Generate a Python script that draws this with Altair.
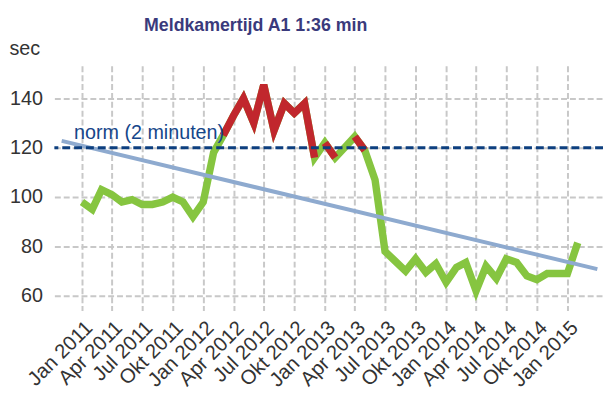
import json
import altair as alt
import pandas as pd

# ---------------- data ----------------
title_text = "Meldkamertijd A1 1:36 min"
y_title = "sec"
norm_value = 120
norm_label = "norm (2 minuten)"
norm_label_date = "2010-12-08"
norm_label_value = 123.6

months = [d.strftime("%Y-%m-%d") for d in pd.date_range("2011-01-01", periods=50, freq="MS")]
values = [
    98, 95, 103, 101, 98, 99, 97, 97, 98, 100, 98, 92,          # 2011
    98, 118, 125, 133, 140, 130, 145.5, 127, 138, 134, 138, 116,  # 2012
    122, 116, 120, 124.5, 119, 107, 78, 74, 70, 75, 69.5, 73,   # 2013
    65.5, 71.5, 73.5, 62, 72, 67, 75, 73.5, 68, 66.5, 69, 69,   # 2014
    69, 81.5,                                                   # 2015
]
trend_dates = ["2010-11-01", "2015-04-01"]
trend_values = [122.8, 70.8]
tick_labels = [
    "Jan 2011", "Apr 2011", "Jul 2011", "Okt 2011",
    "Jan 2012", "Apr 2012", "Jul 2012", "Okt 2012",
    "Jan 2013", "Apr 2013", "Jul 2013", "Okt 2013",
    "Jan 2014", "Apr 2014", "Jul 2014", "Okt 2014",
    "Jan 2015",
]
y_ticks = [60, 80, 100, 120, 140]

# ---------------- tables ----------------
df = pd.DataFrame({"date": months, "sec": values})

red_rows = []
run = 0
prev = False
for i in range(len(values) - 1):
    is_red = values[i] > norm_value
    if is_red:
        if not prev:
            run += 1
            red_rows.append({"date": months[i], "sec": values[i], "run": run})
        red_rows.append({"date": months[i + 1], "sec": values[i + 1], "run": run})
    prev = is_red
red_df = pd.DataFrame(red_rows)

trend_df = pd.DataFrame({"date": trend_dates, "sec": trend_values})
norm_df = pd.DataFrame({"sec": [norm_value]})
label_df = pd.DataFrame({"date": [norm_label_date], "sec": [norm_label_value], "t": [norm_label]})

tick_values = []
for lab in tick_labels:
    mon, yr = lab.split()
    m = {"Jan": 1, "Apr": 4, "Jul": 7, "Okt": 10}[mon]
    tick_values.append(alt.DateTime(year=int(yr), month=m, date=1, utc=True))

label_expr = (
    json.dumps(tick_labels)
    + "[(utcyear(datum.value)-2011)*4 + floor(utcmonth(datum.value)/3)]"
)

FONT = "Liberation Sans"

x_scale = alt.Scale(
    type="utc",
    domain=[
        alt.DateTime(year=2010, month=10, date=10, utc=True),
        alt.DateTime(year=2015, month=4, date=18, utc=True),
    ],
)
y_scale = alt.Scale(domain=[54, 153.2], nice=False, zero=False)

x_axis = alt.Axis(
    values=tick_values,
    labelExpr=label_expr,
    labelAngle=-45,
    labelFontSize=20.5,
    labelColor="#333333",
    labelFont=FONT,
    labelPadding=7,
    labelOverlap=False,
    labelSeparation=-100,
    labelFlush=False,
    labelBound=False,
    ticks=False,
    domain=False,
    grid=True,
    gridColor="#c8c8c8",
    gridDash=[6, 3],
    gridWidth=2,
    title=None,
)
y_axis = alt.Axis(
    values=y_ticks,
    labelFontSize=20,
    labelColor="#333333",
    labelFont=FONT,
    labelPadding=12,
    ticks=False,
    domain=False,
    grid=True,
    gridColor="#c8c8c8",
    gridDash=[6, 3],
    gridWidth=2,
    title=y_title,
    titleAngle=0,
    titleAlign="left",
    titleBaseline="alphabetic",
    titleX=-46,
    titleY=-11,
    titleFont=FONT,
    titleFontSize=20,
    titleFontWeight="normal",
    titleColor="#333333",
)

X = alt.X("date:T", scale=x_scale, axis=x_axis)
Y = alt.Y("sec:Q", scale=y_scale, axis=y_axis)

green = alt.Chart(df).mark_line(color="#86c540", strokeWidth=7.5, strokeJoin="miter").encode(
    x=X, y=Y
)
red = alt.Chart(red_df).mark_line(color="#c1272d", strokeWidth=7.5, strokeJoin="miter").encode(
    x=X, y=Y, detail="run:N"
)
trend = alt.Chart(trend_df).mark_line(color="#8eaacf", strokeWidth=4).encode(
    x=X, y=Y
)
norm = alt.Chart(norm_df).mark_rule(color="#0d3f7f", strokeWidth=3, strokeDash=[8, 4]).encode(
    y=Y
)
norm_text = alt.Chart(label_df).mark_text(
    align="left", baseline="alphabetic", fontSize=20, font=FONT, color="#15468a"
).encode(x=X, y=Y, text="t:N")

chart = (
    alt.layer(green, red, trend, norm, norm_text)
    .properties(
        width=556,
        height=248,
        autosize=alt.AutoSizeParams(type="none"),
        padding={"left": 47, "top": 56, "right": 0, "bottom": 85},
        title=alt.Title(
            title_text,
            font=FONT,
            fontSize=18,
            fontWeight="bold",
            color="#3a3a7c",
            anchor="middle",
            frame="group",
            dx=-74,
            offset=4,
        ),
    )
    .configure_view(stroke=None)
    .configure_axis(labelOverlap=False)
)

chart.save("out.html", embed_options={"renderer": "svg", "actions": False})
